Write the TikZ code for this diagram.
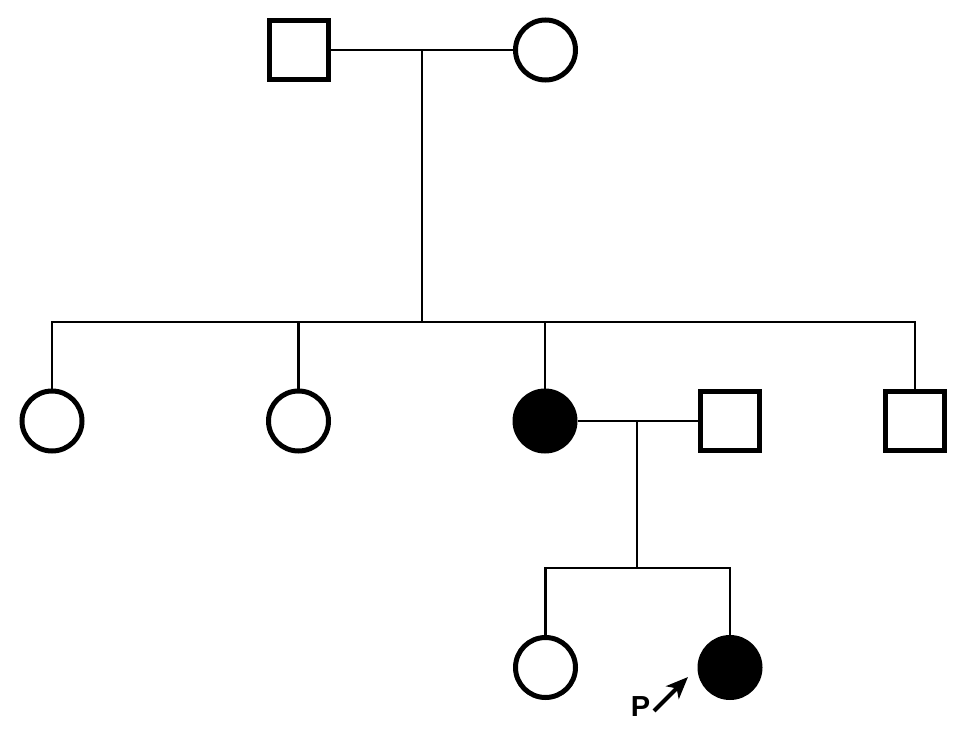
\documentclass[tikz,border=0pt]{standalone}
\usepackage{fontspec}
\setsansfont{Liberation Sans}
\usetikzlibrary{arrows.meta}
\begin{document}
\begin{tikzpicture}[x=1pt,y=-1pt,
  male/.style={draw,line width=5pt,rectangle,minimum size=59pt,inner sep=0pt,fill=white},
  female/.style={draw,line width=5pt,circle,minimum size=60pt,inner sep=0pt,fill=white},
  affected/.style={fill=black},
  link/.style={line width=2.9pt},
  parrow/.style={line width=4pt,-{Stealth[length=22pt,width=18pt,inset=6pt]}}]
\useasboundingbox (0,0) rectangle (969,741);
% generation I
\node[male] (m1) at (298.5,50) {};
\node[female] (f1) at (545.5,50) {};
% generation II
\node[female] (c1) at (52,421) {};
\node[female] (c2) at (298.5,421) {};
\node[female,affected] (c3) at (545,421) {};
\node[male] (c5) at (730,421) {};
\node[male] (c4) at (915,421) {};
% generation III
\node[female] (g1) at (545.5,667.5) {};
\node[female,affected] (g2) at (730,667.5) {};
% connectors
\coordinate (d1) at (422,50);
\coordinate (s1) at (422,322);
\coordinate (d2) at (637,421);
\coordinate (s2) at (637,568);
\draw[link] (m1.east) -- (f1.west);
\draw[link] (d1) -- (s1);
\draw[link] (c1.north) -- (c1.north |- s1) -- (c4.north |- s1) -- (c4.north);
\draw[link] (c2.north) -- (c2.north |- s1);
\draw[link] (c3.north) -- (c3.north |- s1);
\draw[link] (c3.east) -- (c5.west);
\draw[link] (d2) -- (s2);
\draw[link] (g1.north) -- (g1.north |- s2) -- (g2.north |- s2) -- (g2.north);
% proband
\node[font=\sffamily\bfseries\fontsize{29}{32}\selectfont,inner sep=0pt] (P) at (640.5,707) {P};
\coordinate (ptail) at (654,711);
\coordinate (ptip) at (688,677);
\draw[parrow] (ptail) -- (ptip);
\end{tikzpicture}
\end{document}
